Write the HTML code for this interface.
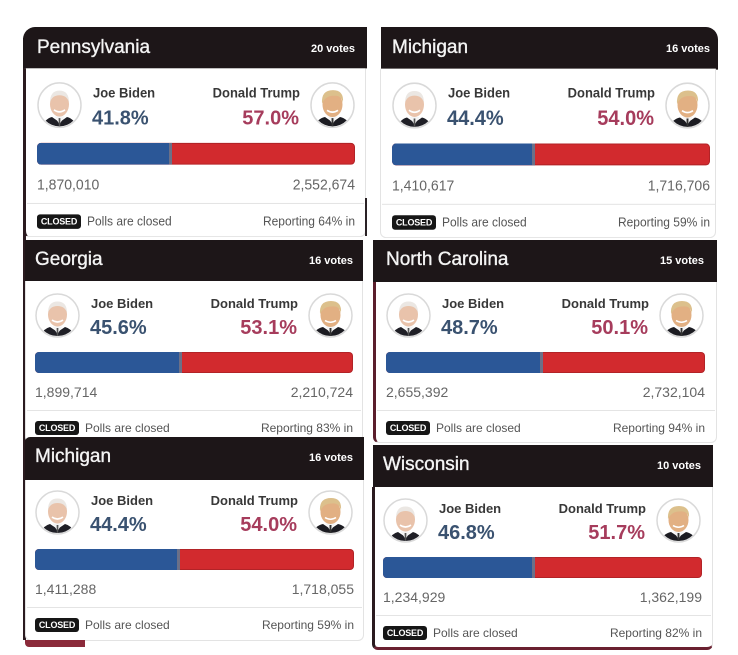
<!DOCTYPE html>
<html><head><meta charset="utf-8">
<style>
*{margin:0;padding:0;box-sizing:border-box}
html,body{width:738px;height:655px;background:#fff;overflow:hidden;position:relative;font-family:"Liberation Sans",Arial,sans-serif}
.p{position:absolute;left:0;width:738px;height:210px;transform-origin:0 0}
.p>*{position:absolute}
.body{background:#fff;border:1px solid #e3e3e3;border-top:none;border-radius:0 0 6px 6px}
.hd{background:#1d1618}
.tt{color:#f4f4f4;font-size:19px;line-height:19px;top:10px;-webkit-text-stroke:0.35px #f4f4f4;white-space:nowrap}
.vt{color:#fff;font-size:11px;line-height:11px;font-weight:bold;top:16px;white-space:nowrap}
.av{top:53px;width:45px;height:45px}
.nm{font-size:13px;line-height:13px;font-weight:bold;color:#383838;top:57px;white-space:nowrap}
.pc{font-size:20px;line-height:20px;font-weight:bold;top:78px;white-space:nowrap}
.b{color:#3a5270}.r{color:#a63c5c}
.bar{top:112px;height:21px;width:318px;border-radius:4px;overflow:hidden;background:#d22a2e;box-shadow:inset 0 0 0 1px rgba(0,0,0,.15)}
.bar i{position:absolute;left:0;top:0;bottom:0;background:#2b5797;border-right:3px solid #6b7088}
.num{font-size:14px;line-height:14px;color:#666;top:145px;white-space:nowrap}
.sep{top:170px;height:1px;background:#e4e4e4}
.cl{top:181px;width:44px;height:14px;background:#161616;border-radius:3px;color:#fff;font-size:9px;font-weight:bold;line-height:14px;text-align:center;letter-spacing:-0.2px}
.ft{font-size:12px;line-height:12px;color:#555;top:182px;white-space:nowrap}
.dec{position:absolute}
</style></head><body>
<svg width="0" height="0" style="position:absolute">
<defs>
<clipPath id="cc"><circle cx="22.5" cy="22.5" r="20.5"/></clipPath>
<symbol id="bd" viewBox="0 0 45 45">
<circle cx="22.5" cy="22.5" r="21.5" fill="#fff" stroke="#d9d9d9" stroke-width="1.5"/>
<g clip-path="url(#cc)">
<path d="M5 45 Q7 36 15 34 L22.5 39 L30 34 Q38 36 40 45Z" fill="#1f1f26"/>
<path d="M17.5 33.5 L22.5 41 L27.5 33.5Z" fill="#f4f4f4"/>
<path d="M21.6 35 L23.4 35 L23.2 43 L21.8 43Z" fill="#555"/>
<ellipse cx="22.5" cy="21.5" rx="9.5" ry="12" fill="#e9c3ab"/>
<path d="M13 20 Q13 8.5 22.5 8.5 Q32 8.5 32 20 Q30 13 22.5 13 Q15 13 13 20Z" fill="#ebe7e3"/>
<path d="M17 27 Q22.5 31 28 27" stroke="#fff" stroke-width="1.6" fill="none"/>
</g>
</symbol>
<symbol id="tr" viewBox="0 0 45 45">
<circle cx="22.5" cy="22.5" r="21.5" fill="#fff" stroke="#d9d9d9" stroke-width="1.5"/>
<g clip-path="url(#cc)">
<path d="M4 45 Q6 36 15 34 L22.5 39 L30 34 Q39 36 41 45Z" fill="#1c1c22"/>
<path d="M17.5 33.5 L22.5 41 L27.5 33.5Z" fill="#f4f4f4"/>
<path d="M21.5 35 L23.5 35 L23.3 44 L21.7 44Z" fill="#333"/>
<ellipse cx="22.5" cy="22" rx="10" ry="12" fill="#e2b083"/>
<path d="M12 21 Q11 8 23 8 Q34 8 33 20 Q31 12.5 24 13.5 Q16 13 12 21Z" fill="#dcc08c"/>
<path d="M17 27.5 Q22.5 31 28 27.5" stroke="#fff" stroke-width="1.6" fill="none"/>
</g>
</symbol>
</defs>
</svg>

<!-- decorations -->
<div class="dec" style="left:23px;top:38px;width:3px;height:602px;background:#2a1a1f"></div>

<!-- P1 Pennsylvania -->
<div class="p" style="top:27px;transform:scale(1,1.035)">
<div class="hd" style="left:23px;top:0;width:344px;height:40px;border-radius:12px 0 0 0"></div>
<div class="body" style="left:23px;top:40px;width:343px;height:163px;border-left:3px solid #2a1a1f"></div>
<div class="tt" style="left:37px">Pennsylvania</div>
<div class="vt" style="right:383px">20 votes</div>
<svg class="av" style="left:37px"><use href="#bd"/></svg>
<svg class="av" style="left:310px"><use href="#tr"/></svg>
<div class="nm" style="left:93px">Joe Biden</div>
<div class="pc b" style="left:92px">41.8%</div>
<div class="nm" style="right:438px">Donald Trump</div>
<div class="pc r" style="right:439px">57.0%</div>
<div class="bar" style="left:37px"><i style="width:135px"></i></div>
<div class="num" style="left:37px">1,870,010</div>
<div class="num" style="right:383px">2,552,674</div>
<div class="sep" style="left:27px;width:337px"></div>
<div class="cl" style="left:37px">CLOSED</div>
<div class="ft" style="left:87px">Polls are closed</div>
<div class="ft" style="right:383px">Reporting 64% in</div>
</div>

<!-- P2 Michigan -->
<div class="p" style="top:27px;transform:scale(1,1.04)">
<div class="hd" style="left:381px;top:0;width:337px;height:40.5px;border-radius:0 12px 0 0"></div>
<div class="body" style="left:380px;top:40px;width:336px;height:163px"></div>
<div class="tt" style="left:392px">Michigan</div>
<div class="vt" style="right:28px">16 votes</div>
<svg class="av" style="left:392px"><use href="#bd"/></svg>
<svg class="av" style="left:665px"><use href="#tr"/></svg>
<div class="nm" style="left:448px">Joe Biden</div>
<div class="pc b" style="left:447px">44.4%</div>
<div class="nm" style="right:83px">Donald Trump</div>
<div class="pc r" style="right:84px">54.0%</div>
<div class="bar" style="left:392px"><i style="width:143px"></i></div>
<div class="num" style="left:392px">1,410,617</div>
<div class="num" style="right:28px">1,716,706</div>
<div class="sep" style="left:382px;width:333px"></div>
<div class="cl" style="left:392px">CLOSED</div>
<div class="ft" style="left:442px">Polls are closed</div>
<div class="ft" style="right:28px">Reporting 59% in</div>
</div>

<div class="dec" style="left:365px;top:198px;width:2px;height:38px;background:#2a2226"></div>

<!-- P3 Georgia -->
<div class="p" style="top:240px">
<div class="hd" style="left:25px;top:0;width:338px;height:41px"></div>
<div class="body" style="left:25px;top:41px;width:338px;height:162px"></div>
<div class="tt" style="left:35px">Georgia</div>
<div class="vt" style="right:385px">16 votes</div>
<svg class="av" style="left:35px"><use href="#bd"/></svg>
<svg class="av" style="left:308px"><use href="#tr"/></svg>
<div class="nm" style="left:91px">Joe Biden</div>
<div class="pc b" style="left:90px">45.6%</div>
<div class="nm" style="right:440px">Donald Trump</div>
<div class="pc r" style="right:441px">53.1%</div>
<div class="bar" style="left:35px"><i style="width:147px"></i></div>
<div class="num" style="left:35px">1,899,714</div>
<div class="num" style="right:385px">2,210,724</div>
<div class="sep" style="left:27px;width:334px"></div>
<div class="cl" style="left:35px">CLOSED</div>
<div class="ft" style="left:85px">Polls are closed</div>
<div class="ft" style="right:385px">Reporting 83% in</div>
</div>

<!-- P4 North Carolina -->
<div class="p" style="top:240px">
<div class="hd" style="left:373px;top:0;width:344px;height:42px"></div>
<div class="body" style="left:373px;top:42px;width:344px;height:161px;border-left:3px solid #5b1e2c"></div>
<div class="tt" style="left:386px">North Carolina</div>
<div class="vt" style="right:34px">15 votes</div>
<svg class="av" style="left:386px"><use href="#bd"/></svg>
<svg class="av" style="left:659px"><use href="#tr"/></svg>
<div class="nm" style="left:442px">Joe Biden</div>
<div class="pc b" style="left:441px">48.7%</div>
<div class="nm" style="right:89px">Donald Trump</div>
<div class="pc r" style="right:90px">50.1%</div>
<div class="bar" style="left:386px;width:319px"><i style="width:157px"></i></div>
<div class="num" style="left:386px">2,655,392</div>
<div class="num" style="right:33px">2,732,104</div>
<div class="sep" style="left:377px;width:338px"></div>
<div class="cl" style="left:386px">CLOSED</div>
<div class="ft" style="left:436px">Polls are closed</div>
<div class="ft" style="right:33px">Reporting 94% in</div>
</div>

<!-- P5 Michigan -->
<div class="p" style="top:437px">
<div class="hd" style="left:25px;top:0;width:339px;height:43px;border-radius:5px 0 0 0"></div>
<div class="body" style="left:25px;top:43px;width:339px;height:161px"></div>
<div class="tt" style="left:35px">Michigan</div>
<div class="vt" style="right:385px">16 votes</div>
<svg class="av" style="left:35px"><use href="#bd"/></svg>
<svg class="av" style="left:308px"><use href="#tr"/></svg>
<div class="nm" style="left:91px">Joe Biden</div>
<div class="pc b" style="left:90px">44.4%</div>
<div class="nm" style="right:440px">Donald Trump</div>
<div class="pc r" style="right:441px">54.0%</div>
<div class="bar" style="left:35px;width:319px"><i style="width:145px"></i></div>
<div class="num" style="left:35px">1,411,288</div>
<div class="num" style="right:384px">1,718,055</div>
<div class="sep" style="left:27px;width:335px"></div>
<div class="cl" style="left:35px">CLOSED</div>
<div class="ft" style="left:85px">Polls are closed</div>
<div class="ft" style="right:384px">Reporting 59% in</div>
</div>
<div class="dec" style="left:25px;top:640px;width:60px;height:7px;background:#8b2a3a;border-radius:0 0 0 4px"></div>

<!-- P6 Wisconsin -->
<div class="p" style="top:445px">
<div class="hd" style="left:373px;top:0;width:340px;height:42px"></div>
<div class="body" style="left:372px;top:42px;width:341px;height:163px;border-left:3px solid #2a1a1f;border-bottom:3px solid #6a2030"></div>
<div class="tt" style="left:383px">Wisconsin</div>
<div class="vt" style="right:37px">10 votes</div>
<svg class="av" style="left:383px"><use href="#bd"/></svg>
<svg class="av" style="left:656px"><use href="#tr"/></svg>
<div class="nm" style="left:439px">Joe Biden</div>
<div class="pc b" style="left:438px">46.8%</div>
<div class="nm" style="right:92px">Donald Trump</div>
<div class="pc r" style="right:93px">51.7%</div>
<div class="bar" style="left:383px;width:319px"><i style="width:152px"></i></div>
<div class="num" style="left:383px">1,234,929</div>
<div class="num" style="right:36px">1,362,199</div>
<div class="sep" style="left:376px;width:335px"></div>
<div class="cl" style="left:383px">CLOSED</div>
<div class="ft" style="left:433px">Polls are closed</div>
<div class="ft" style="right:36px">Reporting 82% in</div>
</div>
</body></html>
